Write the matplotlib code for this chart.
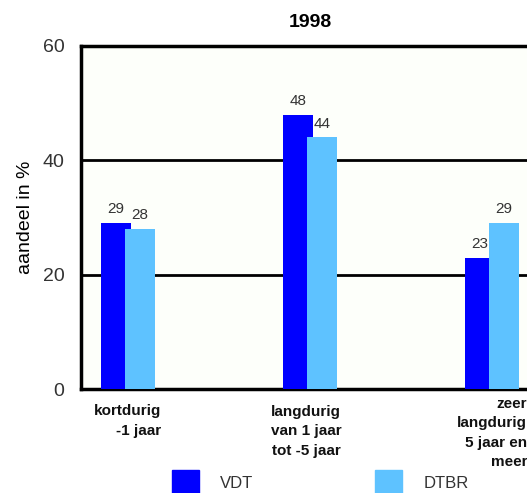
import matplotlib.pyplot as plt
from matplotlib.patches import Rectangle

# data
categories = ["kortdurig\n-1 jaar", "langdurig\nvan 1 jaar\ntot -5 jaar",
              "zeer\nlangdurig\n5 jaar en\nmeer"]
series_names = ["VDT", "DTBR"]
vdt = [29, 48, 23]
dtbr = [28, 44, 29]
yticks = [0, 20, 40, 60]

VDT_COLOR = "#0000ff"
DTBR_COLOR = "#5ec2ff"
TXT = "#333333"

plt.rcParams["font.family"] = ["Liberation Sans", "DejaVu Sans"]

fig = plt.figure(figsize=(5.27, 4.93), dpi=100)
W, H = 527, 493
# axes box in pixels: left 81, right 539 (clipped), top 46, bottom 389
ax = fig.add_axes([81 / W, 1 - 389 / H, (539 - 81) / W, (389 - 46) / H])
ax.set_facecolor("#fdfffa")

bw = 30 / 182
off = 12 / 182
x = list(range(len(categories)))
b1 = ax.bar([i - off for i in x], vdt, width=bw, color=VDT_COLOR, zorder=3)
b2 = ax.bar([i + off for i in x], dtbr, width=bw, color=DTBR_COLOR, zorder=4)

for bars, vals in ((b1, vdt), (b2, dtbr)):
    for r, v in zip(bars, vals):
        ax.annotate(str(v), (r.get_x() + r.get_width() / 2, v), xytext=(0, 10),
                    textcoords="offset points", ha="center", va="center",
                    fontsize=11, color=TXT, zorder=5)

ax.set_xlim(-47 / 182, 2 + 47 / 182)
ax.set_ylim(0, 60)
ax.set_yticks(yticks)
ax.set_yticklabels([str(t) for t in yticks], fontsize=14, color=TXT)
ax.tick_params(axis="y", length=0, pad=12)
ax.set_xticks([])
for y in (20, 40):
    ax.axhline(y, color="black", lw=2, zorder=2)
for s in ("left", "top", "bottom", "right"):
    ax.spines[s].set_linewidth(2.5)
    ax.spines[s].set_color("black")

ax.set_ylabel("aandeel in %", fontsize=14, color="black", labelpad=6)
ax.set_title("1998", fontsize=14, fontweight="bold", pad=14)

# category labels below the axis (pixel anchors)
lab_pos = [(161, 404, "right"), (306, 405, "center"), (527, 397, "right")]
for lab, (px, py, ha) in zip(categories, lab_pos):
    fig.text(px / W, 1 - py / H, lab, ha=ha, va="top", fontsize=11,
             fontweight="bold", color="#111111", multialignment=ha,
             linespacing=1.5)

# legend
for name, col, lx, tx in zip(series_names, [VDT_COLOR, DTBR_COLOR], [172, 375], [220, 424]):
    fig.patches.append(Rectangle((lx / W, 1 - 495 / H), 27 / W, 25 / H,
                                 transform=fig.transFigure, color=col))
    fig.text(tx / W, 1 - 483 / H, name, ha="left", va="center", fontsize=12, color=TXT)

fig.savefig("out.png", dpi=100)
